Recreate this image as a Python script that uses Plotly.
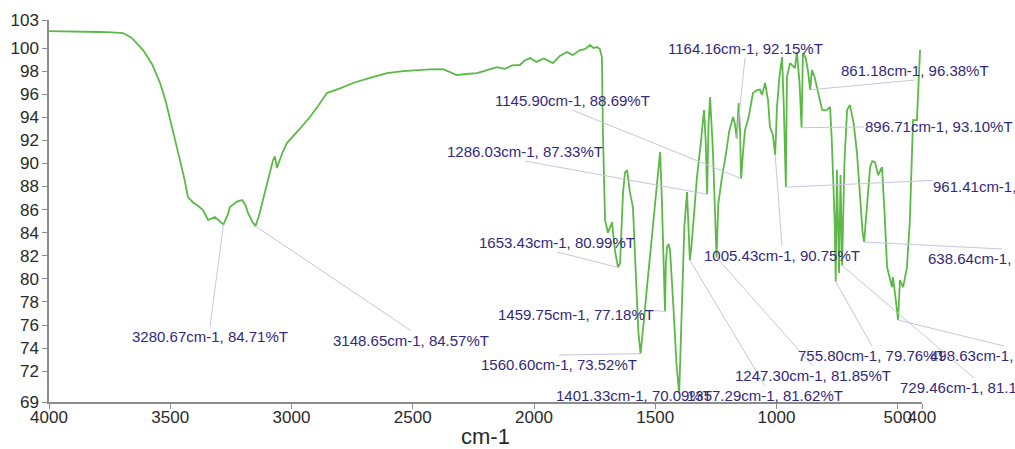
import plotly.graph_objects as go

# FTIR spectrum: wavenumber (cm-1) against transmittance (%T)
wavenumber = [
    4000, 3900, 3790, 3740, 3695, 3660, 3612, 3575, 3542, 3520, 3501, 3480,
    3460, 3440, 3427, 3405, 3390, 3365, 3344, 3316, 3300, 3280.67, 3262, 3254,
    3225, 3204, 3190, 3179, 3160, 3148.65, 3135, 3117, 3095, 3076, 3068, 3060,
    3040, 3019, 2970, 2924, 2890, 2854, 2800, 2746, 2680, 2606, 2540, 2482,
    2430, 2375, 2340, 2318, 2280, 2235, 2190, 2153, 2120, 2090, 2058, 2040,
    2016, 1990, 1960, 1922, 1895, 1864, 1840, 1810, 1790, 1769, 1755, 1740,
    1728, 1720, 1716, 1710, 1707, 1695, 1685, 1678, 1674, 1665, 1653.43, 1645,
    1640, 1633, 1625, 1616, 1610, 1604, 1592, 1580, 1570, 1560.60, 1555, 1545,
    1534, 1515, 1493, 1485, 1480, 1473, 1466, 1459.75, 1456, 1451, 1445, 1439,
    1425, 1412, 1401.33, 1395, 1390, 1380, 1369, 1363, 1357.29, 1350, 1344, 1336,
    1328, 1312, 1299, 1292, 1286.03, 1280, 1274, 1262, 1255, 1247.30, 1240, 1225,
    1208, 1195, 1179, 1172, 1164.16, 1156, 1150, 1145.90, 1138, 1130, 1115, 1097,
    1080, 1068, 1060, 1047, 1035, 1027, 1015, 1005.43, 998, 988, 977, 970,
    961.41, 957, 944, 934, 924, 916, 905, 896.71, 891, 880, 870, 861.18,
    854, 843, 833, 820, 812, 795, 779, 772, 767, 760, 755.80, 751,
    742, 736, 729.46, 720, 709, 697, 682, 668, 655, 645, 638.64, 630,
    614, 605, 594, 581, 565, 555, 544, 524, 520, 510, 498.63, 491,
    478, 462, 450, 437, 421, 408,
]
transmittance = [
    101.47, 101.45, 101.39, 101.35, 101.30, 100.90, 99.83, 98.60, 96.97, 95.50, 93.76, 92.00,
    90.29, 88.50, 87.09, 86.60, 86.40, 85.96, 85.10, 85.36, 85.10, 84.71, 85.60, 86.22,
    86.70, 86.83, 86.40, 85.70, 84.90, 84.57, 85.40, 86.83, 88.70, 90.29, 90.60, 89.60,
    90.80, 91.77, 92.90, 94.02, 95.00, 96.10, 96.50, 96.97, 97.40, 97.83, 98.00, 98.09,
    98.15, 98.18, 97.90, 97.66, 97.75, 97.83, 98.10, 98.35, 98.20, 98.50, 98.53, 98.90,
    99.13, 98.80, 99.10, 98.70, 99.30, 99.65, 99.40, 99.83, 99.90, 100.26, 100.00, 100.09,
    99.90, 99.22, 92.89, 87.00, 85.10, 84.00, 84.60, 84.92, 83.97, 82.30, 80.99, 81.37,
    84.00, 87.43, 89.20, 89.43, 88.40, 87.43, 86.22, 80.00, 75.50, 73.52, 74.96, 76.80,
    79.29, 83.50, 87.95, 89.80, 90.99, 87.00, 82.00, 77.18, 81.50, 82.76, 83.00, 82.50,
    77.50, 72.50, 70.09, 74.50, 79.29, 84.50, 87.52, 85.00, 81.62, 83.00, 84.49, 86.50,
    88.82, 91.80, 94.63, 92.00, 87.33, 93.50, 95.75, 91.00, 86.00, 81.85, 86.50, 88.80,
    90.90, 92.80, 94.02, 93.50, 92.15, 95.23, 92.50, 88.69, 91.00, 92.89, 94.00, 96.10,
    96.36, 96.40, 95.93, 96.97, 95.50, 93.15, 92.50, 90.75, 94.89, 97.50, 99.22, 95.00,
    87.95, 97.49, 98.70, 98.50, 98.27, 99.65, 97.00, 93.10, 99.57, 99.20, 98.00, 96.38,
    98.09, 97.50, 96.62, 95.60, 94.63, 94.60, 94.89, 92.00, 89.43, 85.00, 79.76, 89.43,
    80.50, 89.00, 81.15, 90.00, 94.63, 95.06, 93.50, 90.90, 87.00, 84.00, 83.19, 85.50,
    89.69, 90.20, 90.12, 89.00, 89.69, 86.00, 81.02, 79.29, 80.16, 78.50, 76.43, 79.90,
    79.29, 81.02, 85.10, 93.76, 93.76, 99.83,
]

# Labelled absorption bands
peak_wn = [3280.67, 3148.65, 1164.16, 1145.90, 861.18, 896.71, 1286.03, 961.41,
           1653.43, 1005.43, 638.64, 1459.75, 1560.60, 1401.33, 1357.29, 1247.30,
           755.80, 498.63, 729.46]
peak_t = [84.71, 84.57, 92.15, 88.69, 96.38, 93.10, 87.33, 87.95,
          80.99, 90.75, 83.19, 77.18, 73.52, 70.09, 81.62, 81.85,
          79.76, 76.43, 81.15]

# Where each label sits (axis units) and which side of its box meets the leader line
label_wn = [3336.1, 2507.2, 1129.9, 1843.3, 428.9, 639.2, 2037.1, 49.5,
            1905.2, 977.3, 70.1, 1826.8, 1896.9, 1587.6, 1047.4, 849.5,
            606.2, 61.9, 185.6]
label_t = [75.85, 75.51, 99.14, 94.63, 97.23, 93.16, 90.21, 88.83,
           82.33, 82.85, 82.59, 77.74, 73.40, 70.71, 70.71, 72.45,
           74.18, 74.18, 71.41]
label_xanchor = ["center", "center", "center", "center", "center", "left", "center", "center",
                 "center", "center", "center", "center", "center", "center", "center", "center",
                 "center", "center", "center"]
label_yanchor = ["top", "top", "bottom", "bottom", "bottom", "middle", "bottom", "top",
                 "bottom", "top", "top", "top", "top", "top", "top", "top",
                 "top", "top", "top"]

# Axis ticks; the end ticks mark the limits of the displayed range
y_range = [69.33, 102.43]
y_tickvals = [y_range[0], 72, 74, 76, 78, 80, 82, 84, 86, 88, 90, 92, 94, 96, 98, 100, y_range[1]]
y_ticktext = ["69", "72", "74", "76", "78", "80", "82", "84", "86", "88", "90", "92",
              "94", "96", "98", "100", "103"]
x_range = [4000, 400]
x_tickvals = [4000, 3500, 3000, 2500, 2000, 1500, 1000, 500, 400]
x_ticktext = ["4000", "3500", "3000", "2500", "2000", "1500", "1000", "500", "400"]

FONT = "Arial, 'Liberation Sans', sans-serif"
LABEL_COLOR = "#33297a"
LEADER_COLOR = "#cbc3e2"
AXIS_COLOR = "#8c8c8c"

fig = go.Figure()
fig.add_trace(go.Scatter(
    x=wavenumber, y=transmittance, mode="lines",
    line=dict(color="#5cb947", width=1.8),
    showlegend=False, hoverinfo="x+y",
))

for wn, t, lx, ly, xa, ya in zip(peak_wn, peak_t, label_wn, label_t, label_xanchor, label_yanchor):
    fig.add_annotation(
        x=wn, y=t, xref="x", yref="y",
        ax=lx, ay=ly, axref="x", ayref="y",
        text=f"{wn:.2f}cm-1, {t:.2f}%T",
        xanchor=xa, yanchor=ya,
        showarrow=True, arrowhead=0, arrowwidth=1, arrowcolor=LEADER_COLOR,
        standoff=0, startstandoff=0, borderpad=0,
        font=dict(family=FONT, size=15, color=LABEL_COLOR),
    )

fig.update_layout(
    width=1015, height=449,
    margin=dict(l=49, r=93, t=20, b=47),
    paper_bgcolor="white", plot_bgcolor="white",
    showlegend=False,
    font=dict(family=FONT, color="#2a2a2a"),
)
fig.update_xaxes(
    range=x_range, tickvals=x_tickvals, ticktext=x_ticktext, tickangle=0,
    automargin=False,
    showgrid=False, zeroline=False,
    showline=True, linecolor=AXIS_COLOR, linewidth=1.5,
    ticks="outside", ticklen=5, tickcolor=AXIS_COLOR,
    ticklabelstandoff=-6,
    tickfont=dict(family=FONT, size=17, color="#2a2a2a"),
    title=dict(text="cm-1", font=dict(family=FONT, size=22, color="#2a2a2a"), standoff=6),
)
fig.update_yaxes(
    range=y_range, tickvals=y_tickvals, ticktext=y_ticktext,
    automargin=False,
    showgrid=False, zeroline=False,
    showline=True, linecolor=AXIS_COLOR, linewidth=1.5,
    ticks="outside", ticklen=5, tickcolor=AXIS_COLOR,
    tickfont=dict(family=FONT, size=17, color="#2a2a2a"),
)

fig.write_html("out.html")
